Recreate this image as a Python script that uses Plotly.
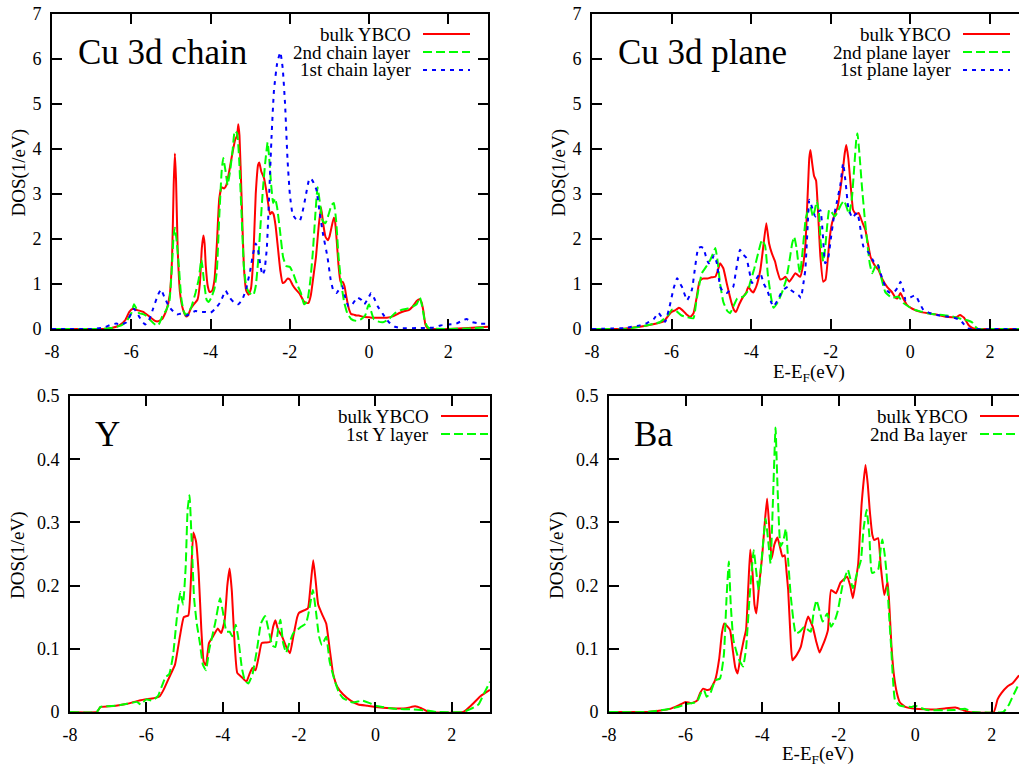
import plotly.graph_objects as go

W, H = 1019, 767

# ---------------- data (E - E_F in eV, DOS in 1/eV) ----------------
chain_bulk = [(-8.0,0),(-6.7,0.0),(-6.5,0.02),(-6.3,0.08),(-6.15,0.2),(-6.05,0.38),(-5.96,0.45),(-5.85,0.42),(-5.7,0.38),(-5.55,0.28),(-5.4,0.18),(-5.33,0.17),(-5.22,0.22),(-5.12,0.4),(-5.03,0.75),(-4.97,1.6),(-4.93,3.2),(-4.90,3.9),(-4.87,3.3),(-4.83,1.8),(-4.77,0.8),(-4.7,0.45),(-4.62,0.28),(-4.57,0.3),(-4.5,0.45),(-4.42,0.55),(-4.33,0.65),(-4.27,1.0),(-4.22,1.8),(-4.18,2.08),(-4.15,1.9),(-4.12,1.4),(-4.07,0.95),(-4.02,0.82),(-3.96,0.85),(-3.9,1.1),(-3.84,1.9),(-3.78,2.9),(-3.72,3.15),(-3.66,3.12),(-3.6,3.2),(-3.53,3.5),(-3.45,3.9),(-3.38,4.2),(-3.33,4.3),(-3.30,4.55),(-3.27,4.3),(-3.22,3.0),(-3.16,1.4),(-3.1,0.85),(-3.04,0.76),(-2.98,0.9),(-2.92,1.6),(-2.86,3.0),(-2.8,3.65),(-2.77,3.7),(-2.72,3.5),(-2.65,3.35),(-2.58,3.0),(-2.5,2.55),(-2.45,2.6),(-2.41,2.55),(-2.36,2.3),(-2.3,1.8),(-2.24,1.3),(-2.18,1.02),(-2.12,1.05),(-2.06,1.12),(-2.0,1.1),(-1.93,0.98),(-1.85,0.88),(-1.75,0.78),(-1.65,0.62),(-1.58,0.58),(-1.53,0.58),(-1.47,0.75),(-1.40,1.2),(-1.34,1.6),(-1.27,2.3),(-1.21,2.7),(-1.16,2.35),(-1.1,2.05),(-1.04,1.97),(-1.0,2.05),(-0.95,2.25),(-0.89,2.47),(-0.86,2.4),(-0.82,2.0),(-0.77,1.4),(-0.72,1.05),(-0.67,1.05),(-0.62,0.95),(-0.57,0.7),(-0.51,0.45),(-0.45,0.33),(-0.39,0.32),(-0.32,0.3),(-0.26,0.3),(-0.15,0.27),(0.0,0.26),(0.15,0.25),(0.3,0.25),(0.45,0.25),(0.6,0.28),(0.75,0.35),(0.9,0.4),(1.0,0.42),(1.1,0.5),(1.2,0.62),(1.27,0.66),(1.32,0.6),(1.37,0.4),(1.42,0.1),(1.47,0.02),(1.6,0.0),(2.0,0.0),(2.5,0.02),(3.0,0.05)]

chain_2nd = [(-8.0,0),(-6.8,0),(-6.5,0.02),(-6.25,0.08),(-6.1,0.2),(-6.0,0.35),(-5.93,0.55),(-5.87,0.45),(-5.8,0.35),(-5.7,0.33),(-5.6,0.28),(-5.5,0.18),(-5.4,0.1),(-5.32,0.08),(-5.22,0.28),(-5.12,0.42),(-5.04,0.6),(-4.98,1.3),(-4.93,2.1),(-4.9,2.25),(-4.86,2.0),(-4.8,1.4),(-4.74,0.7),(-4.68,0.4),(-4.62,0.3),(-4.55,0.38),(-4.48,0.5),(-4.38,0.8),(-4.3,1.1),(-4.23,1.55),(-4.17,1.1),(-4.1,0.65),(-4.05,0.6),(-3.98,0.7),(-3.9,0.9),(-3.84,1.3),(-3.78,2.5),(-3.72,3.5),(-3.68,3.8),(-3.62,3.5),(-3.57,3.2),(-3.5,3.55),(-3.44,4.0),(-3.39,4.4),(-3.33,4.35),(-3.28,3.8),(-3.22,2.6),(-3.16,1.4),(-3.1,0.95),(-3.02,0.8),(-2.92,0.75),(-2.86,0.95),(-2.8,1.5),(-2.74,2.3),(-2.68,3.1),(-2.62,3.7),(-2.56,4.15),(-2.52,3.8),(-2.47,3.2),(-2.42,2.8),(-2.37,2.9),(-2.32,2.7),(-2.25,2.2),(-2.17,1.6),(-2.09,1.4),(-2.0,1.38),(-1.92,1.25),(-1.82,1.0),(-1.72,0.8),(-1.64,0.55),(-1.56,0.62),(-1.48,1.1),(-1.42,1.7),(-1.36,2.5),(-1.3,3.15),(-1.24,2.8),(-1.17,2.4),(-1.1,2.35),(-1.02,2.55),(-0.95,2.75),(-0.89,2.8),(-0.83,2.4),(-0.77,1.6),(-0.7,1.0),(-0.63,0.6),(-0.55,0.35),(-0.45,0.22),(-0.32,0.18),(-0.2,0.22),(-0.1,0.3),(-0.03,0.5),(0.0,0.55),(0.05,0.4),(0.12,0.22),(0.22,0.17),(0.35,0.15),(0.5,0.22),(0.65,0.35),(0.8,0.42),(0.95,0.45),(1.1,0.5),(1.2,0.55),(1.28,0.7),(1.34,0.5),(1.4,0.2),(1.47,0.05),(1.55,0.01),(2.0,0.0),(2.5,0.01),(3.0,0.04)]

chain_1st = [(-8.0,0),(-7.0,0),(-6.7,0.03),(-6.5,0.1),(-6.38,0.12),(-6.25,0.1),(-6.12,0.15),(-6.0,0.35),(-5.93,0.45),(-5.85,0.35),(-5.75,0.2),(-5.65,0.1),(-5.55,0.2),(-5.45,0.45),(-5.33,0.75),(-5.25,0.88),(-5.17,0.72),(-5.05,0.5),(-4.95,0.4),(-4.85,0.32),(-4.72,0.35),(-4.6,0.3),(-4.5,0.35),(-4.38,0.4),(-4.25,0.38),(-4.12,0.38),(-4.0,0.36),(-3.88,0.45),(-3.75,0.6),(-3.62,0.85),(-3.52,0.7),(-3.42,0.6),(-3.3,0.55),(-3.2,0.65),(-3.1,0.9),(-3.0,1.3),(-2.92,1.7),(-2.86,1.9),(-2.8,1.75),(-2.74,1.4),(-2.69,1.2),(-2.64,1.3),(-2.58,1.8),(-2.52,3.0),(-2.46,4.3),(-2.4,5.3),(-2.32,5.9),(-2.24,6.15),(-2.18,5.8),(-2.12,5.0),(-2.06,3.8),(-2.0,3.0),(-1.93,2.55),(-1.85,2.45),(-1.75,2.4),(-1.68,2.6),(-1.6,2.95),(-1.52,3.3),(-1.47,3.35),(-1.4,3.25),(-1.33,3.1),(-1.25,2.6),(-1.16,2.1),(-1.05,1.6),(-0.97,1.1),(-0.9,0.85),(-0.82,0.8),(-0.74,0.9),(-0.68,0.95),(-0.6,0.7),(-0.52,0.5),(-0.42,0.55),(-0.3,0.7),(-0.2,0.65),(-0.12,0.55),(0.0,0.72),(0.05,0.8),(0.12,0.7),(0.22,0.5),(0.35,0.33),(0.5,0.15),(0.65,0.05),(0.8,0.02),(1.2,0.02),(1.6,0.03),(1.8,0.08),(2.0,0.1),(2.2,0.12),(2.38,0.2),(2.46,0.22),(2.6,0.15),(2.8,0.12),(3.0,0.12)]

plane_bulk = [(-8.0,0),(-7.3,0),(-7.0,0.03),(-6.8,0.05),(-6.5,0.1),(-6.2,0.17),(-6.08,0.3),(-6.0,0.38),(-5.9,0.42),(-5.82,0.47),(-5.73,0.42),(-5.63,0.33),(-5.53,0.27),(-5.45,0.35),(-5.38,0.65),(-5.3,1.05),(-5.22,1.12),(-5.1,1.12),(-5.0,1.15),(-4.9,1.16),(-4.84,1.3),(-4.78,1.46),(-4.7,1.35),(-4.61,1.0),(-4.5,0.6),(-4.43,0.42),(-4.38,0.38),(-4.3,0.55),(-4.2,0.72),(-4.13,0.8),(-4.07,0.94),(-4.0,0.85),(-3.95,0.81),(-3.87,0.95),(-3.77,1.31),(-3.7,1.8),(-3.62,2.35),(-3.55,1.9),(-3.48,1.68),(-3.4,1.5),(-3.35,1.31),(-3.27,1.1),(-3.2,1.12),(-3.14,1.16),(-3.04,1.05),(-2.96,1.15),(-2.89,1.24),(-2.83,1.2),(-2.77,1.16),(-2.7,1.4),(-2.64,1.84),(-2.58,3.0),(-2.54,3.8),(-2.51,3.98),(-2.47,3.7),(-2.42,3.4),(-2.37,3.3),(-2.32,2.6),(-2.26,1.6),(-2.19,1.05),(-2.13,1.1),(-2.08,1.5),(-2.03,2.0),(-1.97,2.35),(-1.9,2.55),(-1.83,2.7),(-1.76,3.1),(-1.7,3.5),(-1.65,3.9),(-1.61,4.09),(-1.56,3.8),(-1.5,3.2),(-1.44,2.65),(-1.37,2.55),(-1.3,2.58),(-1.22,2.4),(-1.13,2.2),(-1.0,1.6),(-0.9,1.42),(-0.8,1.31),(-0.7,1.1),(-0.58,0.93),(-0.47,0.83),(-0.38,0.7),(-0.32,0.68),(-0.25,0.8),(-0.18,0.68),(-0.08,0.53),(0.05,0.45),(0.25,0.38),(0.45,0.35),(0.65,0.32),(0.85,0.28),(1.05,0.26),(1.15,0.26),(1.25,0.31),(1.35,0.25),(1.46,0.09),(1.57,0.02),(1.68,0.0),(2.0,0.0),(2.73,0.0)]

plane_2nd = [(-8.0,0),(-7.2,0),(-6.8,0.05),(-6.3,0.15),(-6.1,0.3),(-5.99,0.43),(-5.88,0.4),(-5.75,0.3),(-5.6,0.26),(-5.45,0.24),(-5.38,0.6),(-5.3,1.0),(-5.24,1.24),(-5.12,1.4),(-5.02,1.55),(-4.95,1.7),(-4.9,1.8),(-4.85,1.55),(-4.78,1.0),(-4.7,0.6),(-4.6,0.4),(-4.53,0.35),(-4.45,0.5),(-4.35,0.68),(-4.2,0.72),(-4.08,0.85),(-4.03,1.02),(-3.92,1.35),(-3.82,1.7),(-3.73,1.98),(-3.65,1.85),(-3.58,1.2),(-3.5,0.7),(-3.44,0.47),(-3.33,0.6),(-3.23,0.8),(-3.12,1.1),(-3.04,1.5),(-2.97,1.9),(-2.92,2.05),(-2.86,1.8),(-2.8,1.35),(-2.77,1.24),(-2.7,1.8),(-2.63,2.45),(-2.56,2.65),(-2.51,2.72),(-2.45,2.5),(-2.4,2.65),(-2.35,2.85),(-2.3,2.6),(-2.25,1.9),(-2.19,1.5),(-2.14,1.8),(-2.09,2.3),(-2.04,2.65),(-1.98,2.6),(-1.9,2.5),(-1.83,2.6),(-1.75,2.75),(-1.67,2.85),(-1.6,2.7),(-1.54,2.55),(-1.47,2.9),(-1.41,3.6),(-1.36,4.2),(-1.33,4.35),(-1.28,3.9),(-1.22,3.2),(-1.15,2.5),(-1.08,1.9),(-1.02,1.45),(-0.96,1.24),(-0.88,1.4),(-0.83,1.46),(-0.72,1.1),(-0.63,0.82),(-0.46,0.69),(-0.3,0.72),(-0.18,0.58),(-0.05,0.5),(0.1,0.43),(0.3,0.38),(0.5,0.34),(0.7,0.32),(0.9,0.3),(1.1,0.27),(1.3,0.22),(1.45,0.19),(1.55,0.15),(1.62,0.06),(1.7,0.0),(2.0,0.0),(2.73,0.0)]

plane_1st = [(-8.0,0),(-7.2,0.02),(-7.0,0.05),(-6.8,0.08),(-6.62,0.13),(-6.45,0.22),(-6.33,0.36),(-6.24,0.25),(-6.16,0.16),(-6.05,0.5),(-5.95,0.9),(-5.86,1.13),(-5.78,1.0),(-5.74,0.94),(-5.61,0.64),(-5.49,0.87),(-5.42,1.3),(-5.33,1.8),(-5.26,1.82),(-5.2,1.8),(-5.14,1.62),(-5.07,1.46),(-5.0,1.52),(-4.93,1.64),(-4.86,1.45),(-4.78,0.94),(-4.7,0.82),(-4.61,0.8),(-4.52,0.88),(-4.45,0.94),(-4.38,1.3),(-4.28,1.76),(-4.2,1.65),(-4.12,1.58),(-4.05,1.3),(-3.98,1.02),(-3.88,1.1),(-3.77,1.24),(-3.68,1.0),(-3.6,0.87),(-3.5,0.6),(-3.44,0.5),(-3.33,0.65),(-3.23,0.83),(-3.15,0.9),(-3.07,0.94),(-2.98,0.85),(-2.89,0.8),(-2.81,0.75),(-2.75,0.69),(-2.69,1.0),(-2.64,1.31),(-2.58,2.3),(-2.54,2.87),(-2.47,2.7),(-2.39,2.5),(-2.32,2.6),(-2.26,2.64),(-2.2,2.1),(-2.14,1.46),(-2.07,1.55),(-2.0,2.0),(-1.92,2.5),(-1.84,2.85),(-1.76,3.2),(-1.69,3.68),(-1.62,3.2),(-1.56,2.7),(-1.46,2.47),(-1.38,2.55),(-1.33,2.58),(-1.25,2.2),(-1.18,1.83),(-1.05,1.7),(-0.92,1.5),(-0.83,1.46),(-0.7,1.1),(-0.58,0.85),(-0.5,0.8),(-0.38,0.85),(-0.3,0.95),(-0.25,1.05),(-0.17,0.85),(-0.12,0.64),(0.0,0.7),(0.12,0.75),(0.22,0.6),(0.33,0.42),(0.5,0.35),(0.67,0.31),(0.9,0.28),(1.1,0.25),(1.25,0.2),(1.35,0.1),(1.42,0.02),(1.55,0.0),(2.73,0.0)]

y_bulk = [(-8.0,0),(-7.3,0),(-7.2,0.008),(-7.0,0.009),(-6.8,0.01),(-6.5,0.013),(-6.2,0.018),(-6.0,0.02),(-5.8,0.022),(-5.65,0.025),(-5.55,0.035),(-5.4,0.055),(-5.25,0.075),(-5.12,0.12),(-5.02,0.15),(-4.9,0.153),(-4.84,0.2),(-4.77,0.284),(-4.7,0.27),(-4.63,0.22),(-4.56,0.13),(-4.5,0.08),(-4.44,0.074),(-4.36,0.109),(-4.25,0.12),(-4.13,0.132),(-4.04,0.125),(-3.95,0.145),(-3.88,0.2),(-3.82,0.227),(-3.76,0.19),(-3.7,0.12),(-3.62,0.062),(-3.5,0.055),(-3.38,0.048),(-3.3,0.06),(-3.22,0.07),(-3.14,0.066),(-3.05,0.09),(-2.98,0.109),(-2.87,0.11),(-2.76,0.111),(-2.68,0.135),(-2.62,0.145),(-2.55,0.13),(-2.45,0.12),(-2.35,0.105),(-2.24,0.093),(-2.15,0.12),(-2.05,0.15),(-2.0,0.157),(-1.9,0.16),(-1.77,0.164),(-1.7,0.2),(-1.63,0.24),(-1.57,0.21),(-1.5,0.17),(-1.4,0.155),(-1.29,0.14),(-1.2,0.1),(-1.11,0.061),(-1.0,0.04),(-0.85,0.028),(-0.65,0.018),(-0.45,0.012),(-0.2,0.01),(0.0,0.008),(0.4,0.006),(0.8,0.006),(1.04,0.009),(1.2,0.006),(1.4,0.0),(2.3,0.0),(2.5,0.01),(2.75,0.025),(3.0,0.035)]

y_1st = [(-8.0,0),(-7.3,0),(-7.2,0.008),(-6.8,0.01),(-6.5,0.013),(-6.25,0.016),(-6.15,0.012),(-6.0,0.02),(-5.85,0.018),(-5.7,0.025),(-5.6,0.04),(-5.5,0.055),(-5.4,0.06),(-5.3,0.09),(-5.2,0.15),(-5.11,0.19),(-5.04,0.17),(-4.97,0.23),(-4.92,0.32),(-4.87,0.343),(-4.82,0.28),(-4.75,0.18),(-4.68,0.14),(-4.6,0.11),(-4.52,0.075),(-4.44,0.066),(-4.35,0.1),(-4.2,0.14),(-4.07,0.18),(-4.0,0.16),(-3.9,0.127),(-3.82,0.127),(-3.75,0.12),(-3.66,0.138),(-3.6,0.12),(-3.5,0.07),(-3.42,0.05),(-3.33,0.045),(-3.22,0.06),(-3.1,0.1),(-3.0,0.14),(-2.89,0.152),(-2.8,0.13),(-2.7,0.105),(-2.62,0.103),(-2.55,0.13),(-2.49,0.146),(-2.42,0.11),(-2.34,0.094),(-2.25,0.11),(-2.15,0.125),(-2.04,0.13),(-1.95,0.135),(-1.82,0.14),(-1.74,0.16),(-1.64,0.193),(-1.56,0.16),(-1.48,0.12),(-1.4,0.106),(-1.29,0.119),(-1.2,0.08),(-1.07,0.05),(-0.95,0.03),(-0.85,0.022),(-0.6,0.015),(-0.35,0.018),(-0.15,0.014),(0.0,0.01),(0.5,0.005),(1.0,0.004),(1.4,0.002),(1.6,0.0),(2.3,0.0),(2.5,0.005),(2.7,0.012),(2.85,0.03),(3.0,0.048)]

ba_bulk = [(-8.0,0),(-7.0,0.0),(-6.7,0.002),(-6.4,0.005),(-6.2,0.01),(-6.0,0.016),(-5.85,0.014),(-5.7,0.018),(-5.62,0.03),(-5.54,0.037),(-5.45,0.035),(-5.36,0.036),(-5.23,0.05),(-5.12,0.085),(-5.05,0.125),(-4.99,0.14),(-4.84,0.13),(-4.76,0.095),(-4.7,0.07),(-4.64,0.061),(-4.56,0.09),(-4.48,0.114),(-4.42,0.13),(-4.36,0.2),(-4.31,0.257),(-4.25,0.22),(-4.2,0.17),(-4.15,0.156),(-4.08,0.2),(-4.0,0.246),(-3.93,0.3),(-3.87,0.338),(-3.81,0.29),(-3.75,0.243),(-3.68,0.265),(-3.6,0.276),(-3.53,0.26),(-3.47,0.246),(-3.41,0.248),(-3.36,0.22),(-3.32,0.193),(-3.26,0.12),(-3.21,0.082),(-3.1,0.09),(-2.99,0.103),(-2.88,0.135),(-2.8,0.151),(-2.68,0.135),(-2.58,0.11),(-2.5,0.094),(-2.42,0.105),(-2.36,0.114),(-2.28,0.13),(-2.2,0.193),(-2.07,0.188),(-1.95,0.205),(-1.78,0.214),(-1.7,0.2),(-1.63,0.18),(-1.56,0.205),(-1.49,0.235),(-1.4,0.33),(-1.3,0.391),(-1.24,0.36),(-1.19,0.32),(-1.12,0.28),(-1.07,0.272),(-0.97,0.275),(-0.9,0.23),(-0.81,0.185),(-0.72,0.206),(-0.67,0.16),(-0.62,0.103),(-0.56,0.06),(-0.48,0.03),(-0.4,0.015),(-0.26,0.008),(0.0,0.005),(0.53,0.004),(0.8,0.006),(1.05,0.007),(1.25,0.003),(1.4,0.0),(2.05,0.0),(2.15,0.02),(2.25,0.03),(2.4,0.04),(2.55,0.046),(2.71,0.058)]

ba_2nd = [(-8.0,0),(-7.0,0.0),(-6.5,0.004),(-6.2,0.008),(-6.0,0.012),(-5.85,0.014),(-5.7,0.016),(-5.6,0.03),(-5.52,0.035),(-5.45,0.024),(-5.35,0.03),(-5.23,0.05),(-5.1,0.053),(-5.0,0.09),(-4.93,0.18),(-4.87,0.238),(-4.82,0.17),(-4.75,0.114),(-4.62,0.085),(-4.5,0.072),(-4.42,0.1),(-4.33,0.18),(-4.22,0.256),(-4.15,0.22),(-4.09,0.193),(-4.0,0.25),(-3.91,0.306),(-3.84,0.27),(-3.78,0.235),(-3.72,0.33),(-3.65,0.45),(-3.6,0.36),(-3.52,0.262),(-3.45,0.27),(-3.38,0.29),(-3.32,0.24),(-3.25,0.182),(-3.12,0.124),(-3.0,0.128),(-2.9,0.135),(-2.8,0.13),(-2.73,0.127),(-2.65,0.16),(-2.58,0.177),(-2.5,0.16),(-2.42,0.143),(-2.3,0.156),(-2.2,0.135),(-2.1,0.145),(-2.02,0.161),(-1.9,0.2),(-1.76,0.225),(-1.63,0.196),(-1.52,0.22),(-1.42,0.24),(-1.35,0.29),(-1.27,0.32),(-1.2,0.28),(-1.13,0.22),(-0.97,0.225),(-0.9,0.26),(-0.86,0.273),(-0.8,0.25),(-0.75,0.22),(-0.68,0.15),(-0.63,0.103),(-0.53,0.019),(-0.4,0.01),(-0.1,0.008),(0.0,0.01),(0.3,0.003),(1.0,0.003),(1.3,0.005),(1.5,0.0),(2.3,0.0),(2.45,0.012),(2.55,0.025),(2.71,0.045)]

x_tick_vals = [-8, -6, -4, -2, 0, 2]
x_tick_text = ["-8", "-6", "-4", "-2", "0", "2"]
cu_tick_vals = [0, 1, 2, 3, 4, 5, 6, 7]
cu_tick_text = ["0", "1", "2", "3", "4", "5", "6", "7"]
small_tick_vals = [0, 0.1, 0.2, 0.3, 0.4, 0.5]
small_tick_text = ["0", "0.1", "0.2", "0.3", "0.4", "0.5"]

panel_titles = ["Cu 3d chain", "Cu 3d plane", "Y", "Ba"]
legend_names = [
    ["bulk YBCO", "2nd chain layer", "1st chain layer"],
    ["bulk YBCO", "2nd plane layer", "1st plane layer"],
    ["bulk YBCO", "1st Y layer"],
    ["bulk YBCO", "2nd Ba layer"],
]
panel_series = [
    [chain_bulk, chain_2nd, chain_1st],
    [plane_bulk, plane_2nd, plane_1st],
    [y_bulk, y_1st],
    [ba_bulk, ba_2nd],
]

# ---------------- styling ----------------
FONT = "'Liberation Serif', 'Times New Roman', Times, 'DejaVu Serif', serif"
styles = [
    dict(color="#ff0000", dash="solid"),
    dict(color="#00ff00", dash="9px,4px"),
    dict(color="#0000ff", dash="4px,5px"),
]

def fx(p):
    return p / W

def fy(p):
    return 1 - p / H

# pixel geometry of each panel: (left, right, top, bottom), x range, y range
geom = [
    dict(l=52, r=488, t=14, b=329, xr=[-8, 3], yr=[0, 7], yt=(cu_tick_vals, cu_tick_text), right_clip=False),
    dict(l=592, r=W, t=14, b=329, xr=[-8, 2.73], yr=[0, 7], yt=(cu_tick_vals, cu_tick_text), right_clip=True),
    dict(l=70, r=490, t=396, b=712, xr=[-8, 3], yr=[0, 0.5], yt=(small_tick_vals, small_tick_text), right_clip=False),
    dict(l=609, r=W, t=396, b=712, xr=[-8, 2.71], yr=[0, 0.5], yt=(small_tick_vals, small_tick_text), right_clip=True),
]

fig = go.Figure()
layout = dict(
    width=W, height=H,
    margin=dict(l=0, r=0, t=0, b=0, autoexpand=False),
    paper_bgcolor="white", plot_bgcolor="white",
    showlegend=False,
    font=dict(family=FONT, size=18, color="black"),
)

annotations = []
shapes = []

for i, g in enumerate(geom):
    n = "" if i == 0 else str(i + 1)
    xa, ya = "x" + n, "y" + n
    common = dict(
        showgrid=False, zeroline=False, showline=True, linewidth=2, linecolor="black",
        ticks="inside", ticklen=10, tickwidth=1.5, tickcolor="black", automargin=False,
        tickfont=dict(family=FONT, size=18, color="black"),
    )
    layout["xaxis" + n] = dict(
        common, domain=[fx(g["l"]), fx(g["r"])], range=g["xr"], anchor=ya,
        tickvals=x_tick_vals, ticktext=x_tick_text, mirror="ticks", ticklabelstandoff=5,
    )
    layout["yaxis" + n] = dict(
        common, domain=[fy(g["b"]), fy(g["t"])], range=g["yr"], anchor=xa,
        tickvals=g["yt"][0], ticktext=g["yt"][1],
        mirror=False if g["right_clip"] else "ticks", ticklabelstandoff=5,
    )
    for k, series in enumerate(panel_series[i]):
        xs = [p[0] for p in series]
        ys = [p[1] for p in series]
        fig.add_trace(go.Scatter(
            x=xs, y=ys, mode="lines", xaxis=xa, yaxis=ya, name=legend_names[i][k],
            line=dict(color=styles[k]["color"], dash=styles[k]["dash"], width=2,
                      shape="spline", smoothing=0.4),
            hoverinfo="x+y+name",
        ))
    # y axis title
    annotations.append(dict(
        text="DOS(1/eV)", textangle=-90, xref="paper", yref="paper",
        x=fx(g["l"] - 34 if i in (0, 1) else g["l"] - 52), y=fy((g["t"] + g["b"]) / 2 + 1),
        showarrow=False, font=dict(family=FONT, size=19, color="black"),
        xanchor="center", yanchor="middle",
    ))
    # panel label
    annotations.append(dict(
        text=panel_titles[i], xref="paper", yref="paper",
        x=fx(g["l"] + (24 if i in (0, 1) else 23)), y=fy(g["t"] + 38),
        showarrow=False, font=dict(family=FONT, size=35, color="black"),
        xanchor="left", yanchor="middle",
    ))
    # legend (text right-justified, sample to the right)
    right_edge = g["l"] + 436
    for k, name in enumerate(legend_names[i]):
        row_y = g["t"] + 20 + 18 * k
        annotations.append(dict(
            text=name, xref="paper", yref="paper",
            x=fx(right_edge - 75), y=fy(row_y),
            showarrow=False, font=dict(family=FONT, size=19, color="black"),
            xanchor="right", yanchor="middle",
        ))
        shapes.append(dict(
            type="line", xref="paper", yref="paper",
            x0=fx(right_edge - 65), x1=fx(right_edge - 18), y0=fy(row_y), y1=fy(row_y),
            line=dict(color=styles[k]["color"], width=2, dash=styles[k]["dash"]),
        ))

# x axis titles under right-hand panels
for i, xoff, ypix in ((1, 217, 373), (3, 209, 755)):
    g = geom[i]
    annotations.append(dict(
        text="E-E<sub>F</sub>(eV)", xref="paper", yref="paper",
        x=fx(g["l"] + xoff), y=fy(ypix), showarrow=False,
        font=dict(family=FONT, size=19, color="black"),
        xanchor="center", yanchor="middle",
    ))

layout["annotations"] = annotations
layout["shapes"] = shapes
fig.update_layout(**layout)
fig.write_html(
    "out.html",
    config={"displayModeBar": False},
    post_script="document.body.style.margin='0';document.body.style.overflow='hidden';",
)
